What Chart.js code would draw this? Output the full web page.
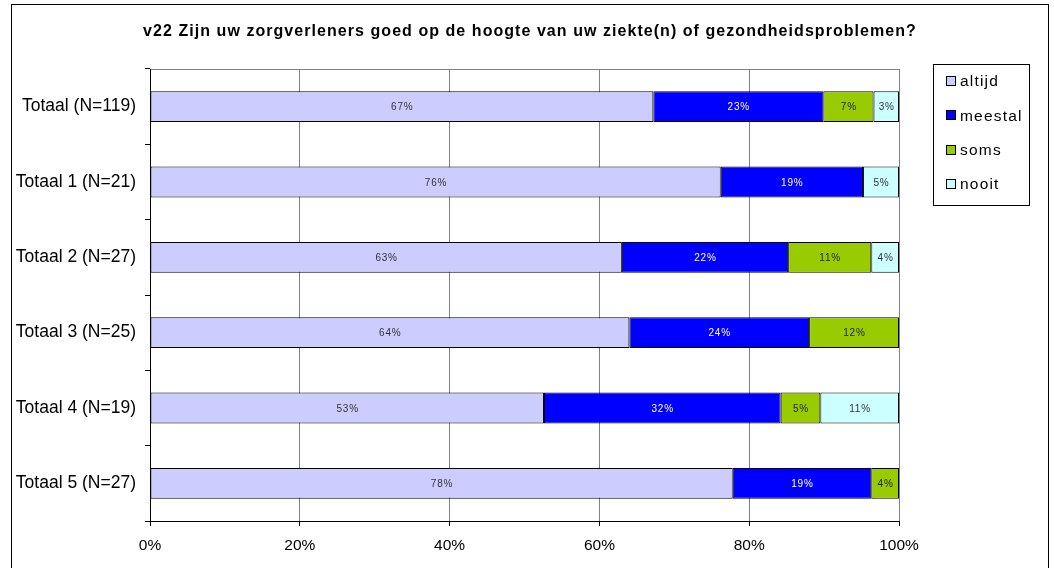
<!DOCTYPE html>
<html>
<head>
<meta charset="utf-8">
<script src="https://cdn.jsdelivr.net/npm/chart.js@4.4.1/dist/chart.umd.min.js"></script>
<style>
html,body{margin:0;padding:0;background:#fff;}
#wrap{position:relative;width:1054px;height:568px;}
</style>
</head>
<body>
<div id="wrap"><canvas id="c" width="1054" height="568"></canvas></div>
<script>
const titleText = 'v22 Zijn uw zorgverleners goed op de hoogte van uw ziekte(n) of gezondheidsproblemen?';
const categories = ['Totaal (N=119)', 'Totaal 1 (N=21)', 'Totaal 2 (N=27)', 'Totaal 3 (N=25)', 'Totaal 4 (N=19)', 'Totaal 5 (N=27)'];
const seriesNames = ['altijd', 'meestal', 'soms', 'nooit'];
const altijd  = [67.2, 76.2, 63.0, 64.0, 52.6, 77.8];
const meestal = [22.7, 19.0, 22.2, 24.0, 31.6, 18.5];
const soms    = [6.7, 0, 11.1, 12.0, 5.3, 3.7];
const nooit   = [3.4, 4.8, 3.7, 0, 10.5, 0];
const xTicks = [0, 20, 40, 60, 80, 100];
const colors = ['#CCCCFF', '#0000FF', '#99CC00', '#CCFFFF'];
const labelColors = ['#333333', '#FFFFFF', '#222222', '#333333'];

const FONT = 'Arial, "Liberation Sans", sans-serif';

const frameAndTitle = {
  id: 'frameAndTitle',
  beforeDraw(chart) {
    const ctx = chart.ctx;
    const a = chart.chartArea;
    ctx.save();
    ctx.fillStyle = '#fff';
    ctx.fillRect(0, 0, chart.width, chart.height);
    ctx.strokeStyle = '#000';
    ctx.lineWidth = 1;
    ctx.strokeRect(11.5, 4.5, 1037, 620);
    // plot border
    ctx.strokeStyle = '#808080';
    ctx.strokeRect(a.left + 0.5, a.top + 0.5, a.right - a.left, a.bottom - a.top);
    // title
    ctx.fillStyle = '#000';
    ctx.font = 'bold 16px ' + FONT;
    ctx.letterSpacing = '1.05px';
    ctx.textAlign = 'center';
    ctx.textBaseline = 'middle';
    ctx.fillText(titleText, 530, 32);
    ctx.restore();
  },
  afterDatasetsDraw(chart) {
    const ctx = chart.ctx;
    ctx.save();
    ctx.font = '10px ' + FONT;
    ctx.letterSpacing = '0.8px';
    ctx.textAlign = 'center';
    ctx.textBaseline = 'middle';
    chart.data.datasets.forEach((ds, di) => {
      const meta = chart.getDatasetMeta(di);
      meta.data.forEach((el, i) => {
        const v = ds.data[i];
        if (!v) return;
        ctx.fillStyle = labelColors[di];
        ctx.fillText(Math.round(v) + '%', (el.x + el.base) / 2 + 0.4, el.y + 1);
      });
    });
    ctx.restore();
  },
  afterDraw(chart) {
    const ctx = chart.ctx;
    ctx.save();
    // legend box
    const lx = 933, ly = 64, lw = 96, lh = 141;
    ctx.strokeStyle = '#000';
    ctx.lineWidth = 1;
    ctx.strokeRect(lx + 0.5, ly + 0.5, lw, lh);
    ctx.font = '15.5px ' + FONT;
    ctx.letterSpacing = '1.2px';
    ctx.textBaseline = 'middle';
    ctx.textAlign = 'left';
    chart.data.datasets.forEach((ds, i) => {
      const cy = 81 + i * 34.3;
      const top = Math.round(cy) - 5;
      ctx.fillStyle = ds.backgroundColor;
      ctx.fillRect(946, top, 10, 10);
      ctx.strokeStyle = '#000';
      ctx.strokeRect(946.5, top + 0.5, 9, 9);
      ctx.fillStyle = '#000';
      ctx.fillText(ds.label, 960, cy + 1);
    });
    ctx.restore();
  }
};

const datasets = [altijd, meestal, soms, nooit].map((d, i) => ({
  label: seriesNames[i],
  data: d,
  backgroundColor: colors[i],
  borderColor: '#000',
  borderWidth: 1,
  borderSkipped: false,
  categoryPercentage: 1.0,
  barPercentage: 0.41
}));

new Chart(document.getElementById('c'), {
  type: 'bar',
  data: { labels: categories, datasets },
  plugins: [frameAndTitle],
  options: {
    indexAxis: 'y',
    responsive: false,
    animation: false,
    layout: { padding: { left: 0, top: 69, right: 155, bottom: 0 } },
    plugins: { legend: { display: false }, tooltip: { enabled: false }, title: { display: false } },
    scales: {
      x: {
        stacked: true,
        min: 0, max: 100,
        afterFit(s) { s.height = 47; },
        afterBuildTicks(s) { s.ticks = xTicks.map(v => ({ value: v })); },
        ticks: {
          callback: v => v + '%',
          color: '#000',
          font: { family: FONT, size: 15.5 },
          padding: 10,
          maxRotation: 0
        },
        grid: { color: '#808080', lineWidth: 1, tickLength: 5, tickColor: '#000' },
        border: { color: '#000', width: 1 }
      },
      y: {
        stacked: true,
        afterFit(s) { s.width = 150; },
        ticks: {
          color: '#000',
          font: { family: FONT, size: 17.5 },
          padding: 9
        },
        grid: { offset: true, drawOnChartArea: false, tickLength: 5, tickColor: '#000' },
        border: { color: '#000', width: 1 }
      }
    }
  }
});
</script>
</body>
</html>
